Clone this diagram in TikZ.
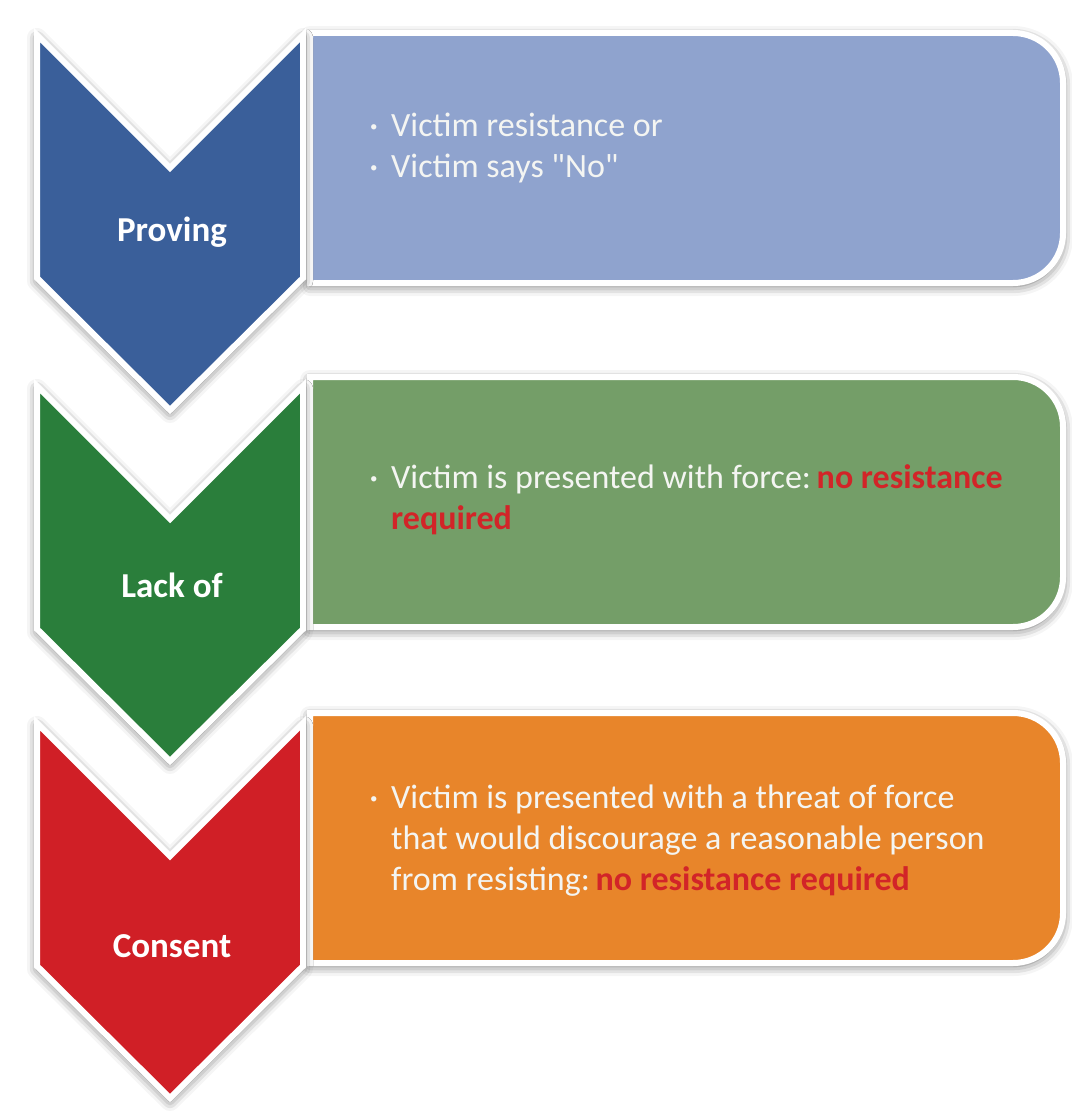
\documentclass[tikz,border=0pt]{standalone}
\usepackage{fontspec}
\setmainfont{Carlito}[Ligatures=TeXOff]
\usepackage{tikz}
\usetikzlibrary{shadows.blur}
\usepackage{xcolor}
\definecolor{provblue}{RGB}{58,95,154}
\definecolor{provpale}{RGB}{143,163,206}
\definecolor{lackgreen}{RGB}{42,126,59}
\definecolor{lackpale}{RGB}{116,158,104}
\definecolor{consred}{RGB}{208,31,38}
\definecolor{consorange}{RGB}{232,133,42}
\definecolor{warnred}{RGB}{210,36,40}
\definecolor{paletext}{RGB}{244,245,242}
\newcommand{\bul}{\makebox[21pt][l]{\raisebox{5pt}{\fontsize{15}{15}\selectfont\textbullet}}}
\newcommand{\nores}[1]{\textcolor{warnred}{\bfseries #1}}

\begin{document}
\begin{tikzpicture}[x=1pt,y=-1pt,
  chev/.style={draw=white,line width=6pt,line join=miter,
    blur shadow={shadow xshift=0pt,shadow yshift=-3pt,shadow blur radius=10pt,shadow opacity=60}},
  panel/.style={chev},
  steplabel/.style={anchor=base,inner sep=0pt,text=white,font=\fontsize{35}{40}\selectfont\bfseries},
  itemline/.style={anchor=base west,inner sep=0pt,text=paletext,font=\fontsize{34}{41}\selectfont}]
\useasboundingbox (0,0) rectangle (1071,1115);
% panels
\path[panel,fill=provpale] (310,33) -- (1013,33) arc[start angle=-90,end angle=0,radius=50] -- (1063,233) arc[start angle=0,end angle=90,radius=50] -- (310,283) -- cycle;
\path[panel,fill=lackpale] (310,377) -- (1013,377) arc[start angle=-90,end angle=0,radius=50] -- (1063,577) arc[start angle=0,end angle=90,radius=50] -- (310,627) -- cycle;
\path[panel,fill=consorange] (310,713) -- (1013,713) arc[start angle=-90,end angle=0,radius=50] -- (1063,913) arc[start angle=0,end angle=90,radius=50] -- (310,963) -- cycle;
% chevrons
\path[chev,fill=provblue] (37,35) -- (170,168) -- (303,35) -- (303,278) -- (170,410) -- (37,278) -- cycle;
\path[chev,fill=lackgreen] (37,386) -- (170,519) -- (303,386) -- (303,629) -- (170,761) -- (37,629) -- cycle;
\path[chev,fill=consred] (37,723) -- (170,856) -- (303,723) -- (303,966) -- (170,1098) -- (37,966) -- cycle;
% step labels
\node (proving) [steplabel] at (172,241) {Proving};
\node (lackof) [steplabel] at (172,597) {Lack of};
\node (consent) [steplabel] at (172,957) {Consent};
% panel texts
\node (p1a) [itemline] at (370,137) {\bul Victim resistance or};
\node (p1b) [itemline] at (370,178) {\bul Victim says "No"};
\node (p2a) [itemline] at (370,488) {\bul Victim is presented with force:\,\nores{no resistance}};
\node (p2b) [itemline] at (391,529) {\nores{required}};
\node (p3a) [itemline] at (370,808) {\bul Victim is presented with a threat of force};
\node (p3b) [itemline] at (391,849) {that would discourage a reasonable person};
\node (p3c) [itemline] at (391,890) {from resisting:\,\nores{no resistance required}};
\end{tikzpicture}
\end{document}
